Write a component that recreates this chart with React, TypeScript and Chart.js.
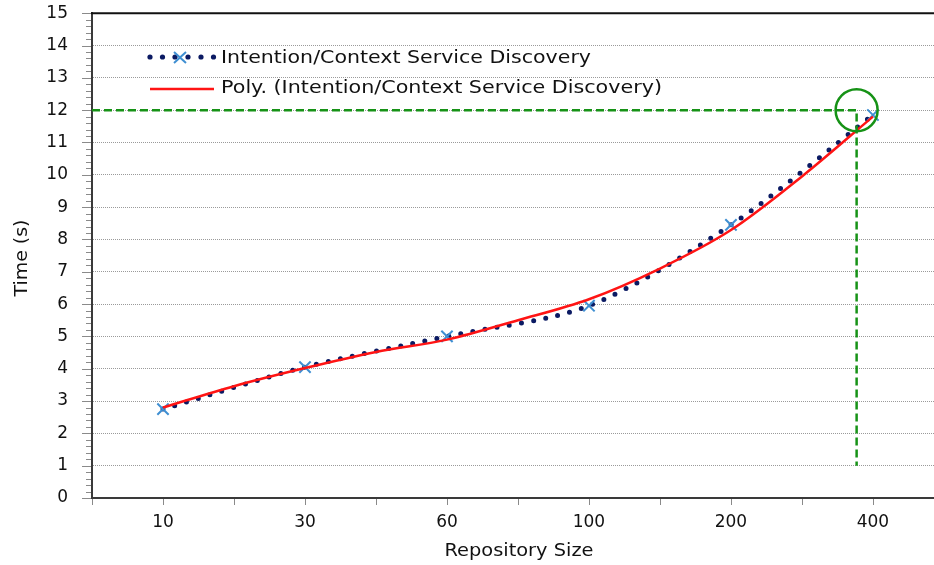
import React, { useEffect, useRef } from 'react';
import { Chart, registerables } from 'chart.js';
Chart.register(...registerables);

// ---- data ----
const repositorySizes = ['10', '30', '60', '100', '200', '400'];
const discoveryTimes = [2.75, 4.05, 5.0, 5.95, 8.45, 11.85];
// polynomial trendline, read at every category and half-way between them (category index)
const polySteps = [0, 0.5, 1, 1.5, 2, 2.5, 3, 3.5, 4, 4.5, 5];
const polyTimes = [2.8, 3.46, 4.02, 4.52, 4.9, 5.5, 6.15, 7.1, 8.29, 9.95, 11.8];
const yMin = 0;
const yMax = 15;
// green guide: target time and where it meets the curve (category index)
const guideTime = 12;
const guideStep = 4.885;
const guideFloor = 1;

const seriesName = 'Intention/Context Service Discovery';
const trendName = 'Poly. (Intention/Context Service Discovery)';
const xTitle = 'Repository Size';
const yTitle = 'Time (s)';

const FONT = '"DejaVu Sans", sans-serif';
const NAVY = '#0b1a63';
const MARK = '#3f8fd2';
const RED = '#ff1414';
const GREEN = '#169216';

const stepToX = (s: number) => 2 * s + 1;

function fitText(ctx: any, text: string, x: number, y: number, width: number, align: string) {
  const w = ctx.measureText(text).width;
  const k = width / w;
  ctx.save();
  ctx.translate(x, y);
  ctx.scale(k, 1);
  ctx.textAlign = align;
  ctx.fillText(text, 0, 0);
  ctx.restore();
}

const overlay = {
  id: 'overlay',
  afterDraw(chart: any) {
    const { ctx, chartArea: a, scales } = chart;
    const x = scales.x;
    const y = scales.y;
    ctx.save();
    // top border
    ctx.strokeStyle = '#111';
    ctx.lineWidth = 2;
    ctx.beginPath();
    ctx.moveTo(a.left - 1, a.top);
    ctx.lineTo(chart.width, a.top);
    ctx.stroke();
    // y tick marks (major + minor)
    ctx.strokeStyle = '#8a8a8a';
    ctx.lineWidth = 1;
    for (let v = yMin * 5; v <= yMax * 5; v++) {
      const py = Math.round(y.getPixelForValue(v / 5)) + 0.5;
      const len = v % 5 === 0 ? 10 : 6;
      ctx.beginPath();
      ctx.moveTo(a.left - len, py);
      ctx.lineTo(a.left - 1, py);
      ctx.stroke();
    }
    // x tick marks
    x.ticks.forEach((t: any) => {
      const px = Math.round(x.getPixelForValue(t.value)) + 0.5;
      ctx.beginPath();
      ctx.moveTo(px, a.bottom + 1);
      ctx.lineTo(px, a.bottom + 7);
      ctx.stroke();
    });
    // green circle
    ctx.strokeStyle = GREEN;
    ctx.lineWidth = 2.5;
    ctx.beginPath();
    ctx.arc(x.getPixelForValue(stepToX(guideStep)), y.getPixelForValue(guideTime), 21, 0, Math.PI * 2);
    ctx.stroke();
    // legend
    const ly1 = 58;
    const ly2 = 89;
    ctx.fillStyle = NAVY;
    [150, 162.5, 175, 188, 201, 213.5].forEach((px) => {
      ctx.beginPath();
      ctx.arc(px, ly1 - 1, 2.6, 0, Math.PI * 2);
      ctx.fill();
    });
    ctx.strokeStyle = MARK;
    ctx.lineWidth = 2;
    ctx.beginPath();
    ctx.moveTo(174, ly1 - 6);
    ctx.lineTo(186, ly1 + 5);
    ctx.moveTo(174, ly1 + 5);
    ctx.lineTo(186, ly1 - 6);
    ctx.stroke();
    ctx.strokeStyle = RED;
    ctx.lineWidth = 2.5;
    ctx.beginPath();
    ctx.moveTo(150, ly2);
    ctx.lineTo(214, ly2);
    ctx.stroke();
    ctx.fillStyle = '#111';
    ctx.font = '17px ' + FONT;
    ctx.textBaseline = 'middle';
    fitText(ctx, seriesName, 221, ly1 + 1, 370, 'left');
    fitText(ctx, trendName, 221, ly2, 441, 'left');
    // axis titles
    ctx.font = '17px ' + FONT;
    fitText(ctx, xTitle, 519, 552, 149, 'center');
    ctx.save();
    ctx.translate(23, 258);
    ctx.rotate(-Math.PI / 2);
    fitText(ctx, yTitle, 0, 0, 77, 'center');
    ctx.restore();
    ctx.restore();
  },
};

export default function App() {
  const ref = useRef<HTMLCanvasElement | null>(null);
  useEffect(() => {
    if (!ref.current) return;
    const chart = new Chart(ref.current, {
      type: 'line',
      data: {
        datasets: [
          {
            label: 'guide',
            data: [
              { x: 0, y: guideTime },
              { x: stepToX(guideStep), y: guideTime },
              { x: stepToX(guideStep), y: guideFloor },
            ],
            borderColor: GREEN,
            borderWidth: 2.5,
            borderDash: [8, 4],
            pointRadius: 0,
            tension: 0,
            order: 0,
          },
          {
            label: trendName,
            data: polySteps.map((s, i) => ({ x: stepToX(s), y: polyTimes[i] })),
            borderColor: RED,
            borderWidth: 2.5,
            pointRadius: 0,
            cubicInterpolationMode: 'monotone',
            order: 1,
          },
          {
            label: seriesName,
            data: discoveryTimes.map((v, i) => ({ x: stepToX(i), y: v })),
            borderColor: NAVY,
            borderWidth: 5,
            borderDash: [0, 12.3],
            borderCapStyle: 'round',
            tension: 0.3,
            pointStyle: 'crossRot',
            pointRadius: 8,
            pointBorderWidth: 2,
            pointBorderColor: MARK,
            pointBackgroundColor: MARK,
            order: 2,
          },
        ],
      },
      options: {
        responsive: false,
        animation: false,
        devicePixelRatio: 1,
        layout: { autoPadding: false, padding: { top: 13, right: 0, left: 0, bottom: 0 } },
        plugins: { legend: { display: false }, tooltip: { enabled: false } },
        scales: {
          x: {
            type: 'linear',
            min: 0,
            max: 11.86,
            afterFit: (s: any) => {
              s.height = 67;
            },
            afterBuildTicks: (s: any) => {
              s.ticks = Array.from({ length: 12 }, (_, i) => ({ value: i }));
            },
            ticks: {
              stepSize: 1,
              autoSkip: false,
              maxRotation: 0,
              color: '#111',
              font: { family: FONT, size: 17 },
              padding: 0,
              callback: (v: any) => {
                const n = Number(v);
                return n % 2 === 1 ? repositorySizes[(n - 1) / 2] : '';
              },
            },
            grid: { drawOnChartArea: false, drawTicks: true, tickLength: 14, tickColor: 'rgba(0,0,0,0)' },
            border: { color: '#3a3a3a', width: 2 },
          },
          y: {
            min: yMin,
            max: yMax,
            afterFit: (s: any) => {
              s.width = 92;
            },
            ticks: {
              stepSize: 1,
              color: '#111',
              font: { family: FONT, size: 17 },
              padding: 3,
            },
            grid: {
              drawTicks: true,
              tickLength: 21,
              tickColor: 'rgba(0,0,0,0)',
              lineWidth: 1,
              color: (c: any) => (c.tick && (c.tick.value === yMin || c.tick.value === yMax) ? 'rgba(0,0,0,0)' : '#9a9a9a'),
            },
            border: { color: '#3a3a3a', width: 2, dash: [1, 1] },
          },
        },
      },
      plugins: [overlay],
    });
    return () => chart.destroy();
  }, []);
  return (
    <div style={{ position: 'fixed', left: 0, top: 0, width: 934, height: 565, background: '#fff' }}>
      <canvas ref={ref} width={934} height={565} />
    </div>
  );
}
